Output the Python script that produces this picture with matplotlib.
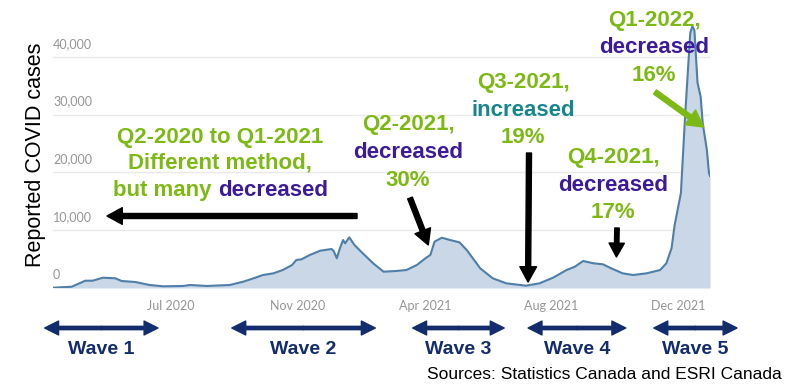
import matplotlib
matplotlib.use("Agg")
import matplotlib.pyplot as plt
import matplotlib.transforms as mtransforms

plt.rcParams['font.family'] = ['Liberation Sans', 'DejaVu Sans']

# reported daily cases, sampled at day offsets from the start of the series
days = [0, 18, 31, 38, 48, 60, 66, 79, 93, 106,
        125, 132, 148, 170, 183, 193, 202, 212, 221, 230,
        234, 239, 247, 257, 268, 270, 273, 276, 279, 281,
        285, 290, 298, 308, 318, 330, 340, 350, 359, 363,
        367, 374, 382, 391, 398, 411, 423, 436, 455, 468,
        481, 494, 502, 510, 520, 529, 537, 548, 558, 571,
        584, 590, 595, 598, 604, 608, 613, 615, 617, 620,
        623, 625, 629, 631, 632]
cases = [50, 220, 1260, 1260, 1780, 1680, 1210, 1040, 520, 290,
         350, 520, 350, 520, 1090, 1680, 2250, 2540, 3110, 3980,
         4840, 4960, 5710, 6450, 6750, 6400, 5140, 6870, 8300, 7730,
         8770, 7440, 6000, 4270, 2820, 2940, 3110, 3980, 5240, 5710,
         8010, 8700, 8300, 7900, 6570, 3400, 1680, 810, 400, 810,
         1780, 3110, 3690, 4670, 4270, 4100, 3400, 2540, 2250, 2540,
         3110, 4270, 6870, 10900, 16400, 29600, 44100, 45300, 44600, 35500,
         33100, 28500, 23900, 19900, 19400]

tick_days = [113, 235, 358, 479, 601]
tick_labels = ['Jul 2020', 'Nov 2020', 'Apr 2021', 'Aug 2021', 'Dec 2021']
y_ticks = [0, 10000, 20000, 30000, 40000]

wave_names = ['Wave 1', 'Wave 2', 'Wave 3', 'Wave 4', 'Wave 5']
wave_start = [-8, 172, 346, 457, 578]
wave_end = [101, 310, 434, 551, 658]

GREEN = '#7db914'
PURPLE = '#3c1a9a'
TEAL = '#17868c'
NAVY = '#132c6c'

W, H = 801, 385


def fx(px):
    return px / W


def fy(py):
    return 1 - py / H


fig = plt.figure(figsize=(W / 100, H / 100), dpi=100)
ax = fig.add_axes([fx(53), fy(288), fx(710) - fx(53), (288 - 10.6) / H])

ax.fill_between(days, cases, color='#c9d7e6', lw=0)
ax.plot(days, cases, color='#4f7ea8', lw=1.5)
ax.set_xlim(0, 632)
ax.set_ylim(0, 48000)

for v in y_ticks[1:]:
    ax.axhline(v, color='#e9e9e9', lw=1, zorder=0)
lab_tr = mtransforms.offset_copy(ax.get_yaxis_transform(), fig=fig, y=6.5, units='points')
for v in y_ticks:
    ax.text(0, v, f'{v:,}', transform=lab_tr, ha='left', va='baseline',
            fontsize=9, color='#959595', family=['Lato', 'DejaVu Sans'])

ax.set_yticks([])
ax.set_xticks(tick_days, tick_labels)
ax.tick_params(axis='x', length=0, pad=9, labelsize=9, labelcolor='#959595')
for t in ax.get_xticklabels():
    t.set_family(['Lato', 'DejaVu Sans'])
for s in ax.spines.values():
    s.set_visible(False)

fig.text(fx(36), fy(155), 'Reported COVID cases', rotation=90, ha='center', va='center',
         fontsize=15.5, color='black')

bold = dict(fontsize=16, fontweight='bold', ha='center', va='baseline')


def block(x, lines):
    for y, txt, col in lines:
        fig.text(fx(x), fy(y), txt, color=col, **bold)


# Q2-2020 to Q1-2021
block(220, [(143, 'Q2-2020 to Q1-2021', GREEN), (169, 'Different method,', GREEN)])
fig.text(fx(212), fy(196), 'but many', color=GREEN, fontsize=16, fontweight='bold',
         ha='right', va='baseline')
fig.text(fx(218), fy(196), 'decreased', color=PURPLE, fontsize=16, fontweight='bold',
         ha='left', va='baseline')
block(408, [(130, 'Q2-2021,', GREEN), (158, 'decreased', PURPLE), (186, '30%', GREEN)])
block(523, [(88, 'Q3-2021,', GREEN), (116, 'increased', TEAL), (143, '19%', GREEN)])
block(613, [(163, 'Q4-2021,', GREEN), (191, 'decreased', PURPLE), (218, '17%', GREEN)])
block(654, [(26, 'Q1-2022,', GREEN), (53, 'decreased', PURPLE), (81, '16%', GREEN)])

arrow_k = dict(facecolor='black', edgecolor='black', width=3.6, headwidth=12,
               headlength=11, shrink=0)
ax.annotate('', xy=(fx(107), fy(216)), xycoords='figure fraction',
            xytext=(fx(357), fy(216)), textcoords='figure fraction', arrowprops=arrow_k)
ax.annotate('', xy=(361, 7440), xytext=(fx(410), fy(198)), textcoords='figure fraction',
            arrowprops=arrow_k)
ax.annotate('', xy=(457, 1040), xytext=(fx(529), fy(153)), textcoords='figure fraction',
            arrowprops=arrow_k)
ax.annotate('', xy=(542, 5360), xytext=(fx(617), fy(228)), textcoords='figure fraction',
            arrowprops=dict(arrow_k, width=3.2, headwidth=11, headlength=10))
ax.annotate('', xy=(626, 27850), xytext=(fx(655), fy(92)), textcoords='figure fraction',
            arrowprops=dict(facecolor=GREEN, edgecolor=GREEN, width=3.6, headwidth=13,
                            headlength=12, shrink=0))

# wave spans below the time axis
wave_tr = mtransforms.blended_transform_factory(ax.transData, fig.transFigure)
arrow_n = dict(facecolor=NAVY, edgecolor=NAVY, width=2.4, headwidth=10,
               headlength=10, shrink=0)
for name, a, b in zip(wave_names, wave_start, wave_end):
    mid = (a + b) / 2
    for end in (a, b):
        ax.annotate('', xy=(end, fy(328)), xycoords=wave_tr, xytext=(mid, fy(328)),
                    textcoords=wave_tr, arrowprops=arrow_n, annotation_clip=False)
    ax.text(mid, fy(354), name, transform=wave_tr, color=NAVY, fontsize=14,
            fontweight='bold', ha='center', va='baseline')

fig.text(fx(782), fy(379), 'Sources: Statistics Canada and ESRI Canada', ha='right',
         va='baseline', fontsize=12.5, color='black')

fig.savefig('out.png', dpi=100)
